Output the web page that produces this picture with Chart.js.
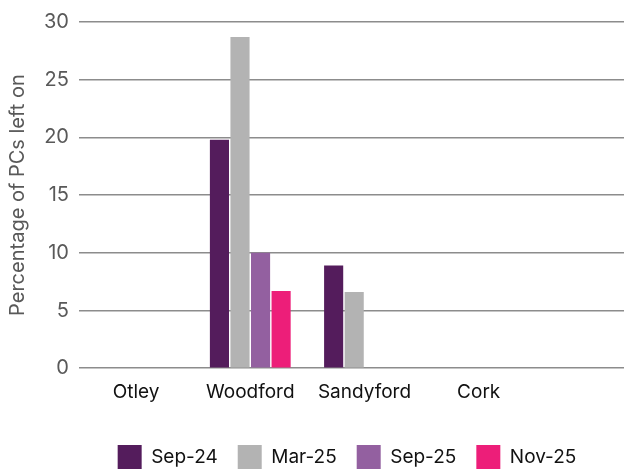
<!DOCTYPE html>
<html>
<head>
<meta charset="utf-8">
<script src="https://cdn.jsdelivr.net/npm/chart.js@4/dist/chart.umd.min.js"></script>
<style>
    html, body { margin: 0; padding: 0; background: #fff; overflow: hidden; }
    .chart-wrap { width: 694px; height: 470px; }
</style>
</head>
<body>
<div class="chart-wrap"><canvas id="mainChart"></canvas></div>
<script>
// Chart data
const categories = ['Otley', 'Woodford', 'Sandyford', 'Cork', ''];
const sep24 = [0, 19.8, 8.9, 0, 0];
const mar25 = [0, 28.7, 6.6, 0, 0];
const sep25 = [0, 10, 0, 0, 0];
const nov25 = [0, 6.7, 0, 0, 0];
const yTicks = [0, 5, 10, 15, 20, 25, 30];

const FONT = 'Inter, "Noto Sans", sans-serif';

// Legend is centred on the whole figure, not the padded plot width
const legendShift = {
    id: 'legendShift',
    afterLayout(chart) {
        chart.legend.left += 19;
        chart.legend.right += 19;
    }
};

const ctx = document.getElementById('mainChart').getContext('2d');

new Chart(ctx, {
    type: 'bar',
    data: {
        labels: categories,
        datasets: [
            { label: 'Sep-24', data: sep24, backgroundColor: '#541c5c' },
            { label: 'Mar-25', data: mar25, backgroundColor: '#b3b3b3' },
            { label: 'Sep-25', data: sep25, backgroundColor: '#9360a0' },
            { label: 'Nov-25', data: nov25, backgroundColor: '#ed1e79' }
        ]
    },
    plugins: [legendShift],
    options: {
        responsive: true,
        maintainAspectRatio: false,
        animation: false,
        layout: { padding: { top: 4, right: 44, left: 6, bottom: -9 } },
        datasets: {
            bar: { categoryPercentage: 0.72, barPercentage: 0.93, borderWidth: 0 }
        },
        scales: {
            x: {
                grid: { display: false },
                border: { display: false },
                ticks: { color: '#111', font: { family: FONT, size: 19 }, padding: 5, maxRotation: 0 }
            },
            y: {
                min: 0,
                max: 30,
                afterBuildTicks: axis => { axis.ticks = yTicks.map(v => ({ value: v })); },
                grid: { color: '#8c8c8c', lineWidth: 1.5, drawTicks: false },
                border: { display: false },
                ticks: { color: '#595959', font: { family: FONT, size: 20 }, padding: 10 },
                title: {
                    display: true,
                    text: 'Percentage of PCs left on',
                    color: '#595959',
                    font: { family: FONT, size: 20 },
                    padding: { top: 0, bottom: 4 }
                }
            }
        },
        plugins: {
            legend: {
                position: 'bottom',
                title: { display: true, text: '', font: { size: 1, lineHeight: 1 }, padding: { top: 15, bottom: 0 } },
                labels: {
                    boxWidth: 24,
                    boxHeight: 24,
                    padding: 20,
                    color: '#111',
                    font: { family: FONT, size: 19 }
                }
            },
            tooltip: { enabled: false }
        }
    }
});
</script>
</body>
</html>
